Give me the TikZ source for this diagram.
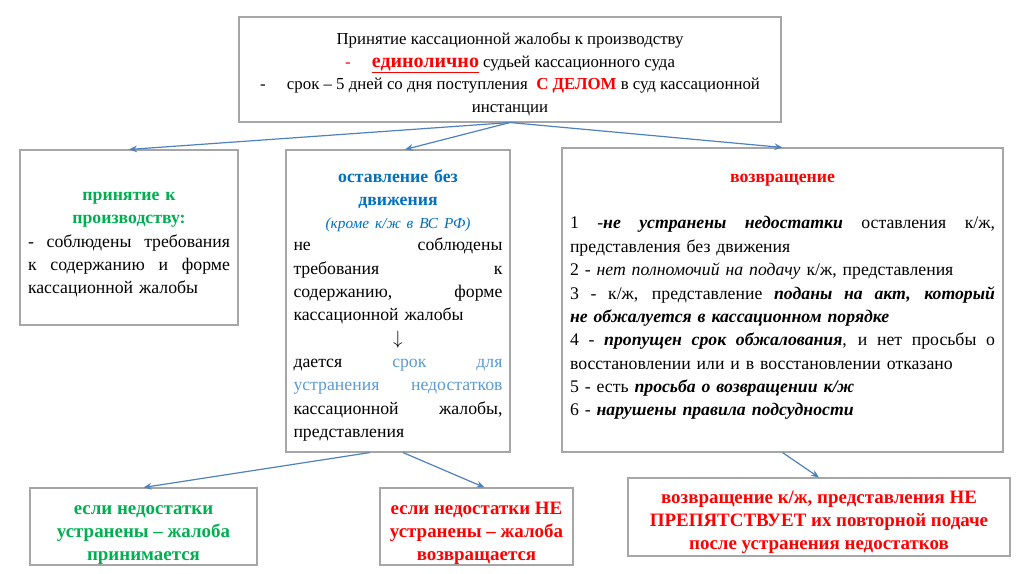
\documentclass[tikz,border=0pt]{standalone}
\usepackage{fontspec}
\setmainfont{Liberation Serif}
\usetikzlibrary{arrows.meta,calc}
\definecolor{cgreen}{HTML}{00B050}
\definecolor{cblue}{HTML}{0070C0}
\definecolor{lblue}{HTML}{5B9BD5}
\definecolor{cred}{HTML}{FF0000}
\definecolor{arr}{HTML}{4F81BD}
\definecolor{bord}{HTML}{A6A6A6}
\newcommand\JL[1]{\leavevmode\hbox to \hsize{\spaceskip=0.25em plus 1fil\relax #1}}
\newcommand\CL[1]{\leavevmode\hbox to \hsize{\hfil #1\hfil}}
\newcommand\LL[1]{\leavevmode\hbox to \hsize{#1\hfil}}
\newcommand\bi[1]{\textbf{\textit{#1}}}
\tikzset{
  box/.style={draw=bord, line width=0.8pt, fill=white, inner sep=0pt, align=left,
    font=\fontsize{13.3}{17.5}\selectfont},
  resbox/.style={draw=bord, line width=0.8pt, fill=white, inner sep=0pt, align=center,
    font=\bfseries\fontsize{14.2}{17.3}\selectfont},
  link/.style={draw=arr, line width=0.9pt, -{Stealth[length=6pt,width=5pt]}}
}
\begin{document}
\begin{tikzpicture}[x=0.75pt,y=-0.75pt]
\useasboundingbox (0,0) rectangle (1024,574);
% top box
\node[box, align=center, minimum width=406.5pt, minimum height=78.75pt,
      font=\fontsize{12.6}{17}\selectfont] (top) at (510,69.5) {%
\rule{0pt}{16pt}Принятие кассационной жалобы к производству\\
\textcolor{cred}{-}\hspace{16pt}\textcolor{cred}{\bfseries\fontsize{15}{17}\selectfont\underline{единолично}} судьей кассационного суда\\
-\hspace{16pt}срок -- 5 дней со дня поступления\ \ \textcolor{cred}{\bfseries С ДЕЛОМ} в суд кассационной\\
инстанции};
% left box
\node[box, text width=151.5pt, minimum width=163.5pt, minimum height=131.25pt] (left) at (129,237.5) {%
\CL{\rule{0pt}{17pt}\textcolor{cgreen}{\bfseries принятие к}}\\
\CL{\textcolor{cgreen}{\bfseries производству:}}\\
\JL{- соблюдены требования}\\
\JL{к содержанию и форме}\\
\LL{кассационной жалобы}};
% middle box
\node[box, text width=156.75pt, minimum width=168pt, minimum height=226.5pt] (mid) at (398,301) {%
\CL{\rule{0pt}{16pt}\textcolor{cblue}{\bfseries оставление без}}\\
\CL{\textcolor{cblue}{\bfseries движения}}\\
\CL{\textcolor{cblue}{\itshape\fontsize{11.5}{17.5}\selectfont (кроме к/ж в ВС РФ)}}\\[-1pt]
\JL{не соблюдены}\\
\JL{требования к}\\
\JL{содержанию, форме}\\
\LL{кассационной жалобы}\\
\CL{$\downarrow$}\\
\JL{дается \textcolor{lblue}{срок для}}\\
\JL{\textcolor{lblue}{устранения недостатков}}\\
\JL{кассационной жалобы,}\\
\LL{представления}};
% right box
\node[box, text width=318.75pt, minimum width=330.75pt, minimum height=228pt] (right) at (782.5,300) {%
\CL{\rule{0pt}{16pt}\textcolor{cred}{\bfseries возвращение}}\\[17.5pt]
\JL{1 -\bi{не устранены недостатки} оставления к/ж,}\\
\LL{представления без движения}\\
\LL{2 - \textit{нет полномочий на подачу} к/ж, представления}\\
\JL{3 - к/ж, представление \bi{поданы на акт, который}}\\
\LL{\bi{не обжалуется в кассационном порядке}}\\
\JL{4 - \bi{пропущен срок обжалования}, и нет просьбы о}\\
\LL{восстановлении или и в восстановлении отказано}\\
\LL{5 - есть \bi{просьба о возвращении к/ж}}\\
\LL{6 - \bi{нарушены правила подсудности}}\\
\mbox{}};
% bottom boxes
\node[resbox, text=cgreen, minimum width=170.25pt, minimum height=57.75pt] (bl) at (143.5,526.5) {%
\rule{0pt}{20pt}если недостатки\\ устранены -- жалоба\\ принимается};
\node[resbox, text=cred, minimum width=144.75pt, minimum height=57.75pt] (bm) at (476.5,526.5) {%
\rule{0pt}{20pt}если недостатки НЕ\\ устранены -- жалоба\\ возвращается};
\node[resbox, text=cred, minimum width=286.5pt, minimum height=58.5pt] (br) at (819,517) {%
\rule{0pt}{17.5pt}возвращение к/ж, представления НЕ\\ ПРЕПЯТСТВУЕТ их повторной подаче\\ после устранения недостатков};
% connectors
\draw[link] (top.south) -- (left.north);
\draw[link] (top.south) -- ($(mid.north)+(7,0)$);
\draw[link] (top.south) -- (right.north);
\draw[link] ($(mid.south)+(-28,0)$) -- (bl.north);
\draw[link] ($(mid.south)+(5,0)$) -- ($(bm.north)+(8,0)$);
\draw[link] (right.south) -- (br.north);
\end{tikzpicture}
\end{document}
